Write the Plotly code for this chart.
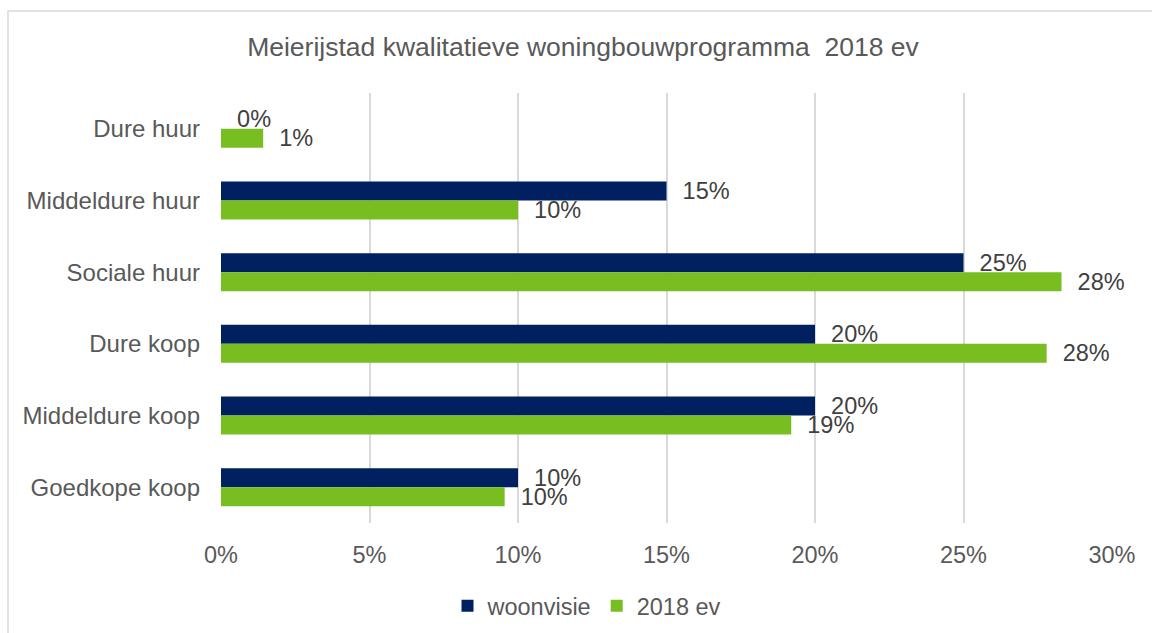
import plotly.graph_objects as go

categories = ["Dure huur", "Middeldure huur", "Sociale huur", "Dure koop", "Middeldure koop", "Goedkope koop"]
woonvisie = [0, 15, 25, 20, 20, 10]
ev2018 = [1.42, 10.0, 28.3, 27.8, 19.2, 9.55]
x_ticks = [0, 5, 10, 15, 20, 25, 30]
x_tick_labels = ["0%", "5%", "10%", "15%", "20%", "25%", "30%"]

BLUE = "#002060"
GREEN = "#78BE20"
FONT = "Liberation Sans, Arial, sans-serif"

W, H = 1152, 633
L, R, T, B = 221, 1152 - 1112, 93, 633 - 523
pw, ph = W - L - R, H - T - B

fig = go.Figure()
for name, vals, col in [("woonvisie", woonvisie, BLUE), ("2018 ev", ev2018, GREEN)]:
    fig.add_trace(go.Bar(
        y=categories, x=vals, name=name, orientation="h",
        marker=dict(color=col, line=dict(width=0)),
        texttemplate="\u00a0\u00a0%{x:.0f}%", textposition="outside",
        textfont=dict(family=FONT, size=23.5, color="#404040"),
        constraintext="none", cliponaxis=False,
        hoverinfo="skip",
    ))

def px_to_paper_x(px):
    return (px - L) / pw

def px_to_paper_y(py):
    return 1 - (py - T) / ph

fig.update_layout(
    width=W, height=H,
    margin=dict(l=L, r=R, t=T, b=B, pad=0),
    paper_bgcolor="white", plot_bgcolor="white",
    barmode="group", bargap=0.47, bargroupgap=0,
    font=dict(family=FONT, size=24, color="#595959"),
    title=dict(text="Meierijstad kwalitatieve woningbouwprogramma  2018 ev",
               x=583 / W, xanchor="center", xref="container",
               y=1 - 47 / H, yanchor="middle", yref="container",
               font=dict(family=FONT, size=26.5, color="#595959")),
    xaxis=dict(range=[0, 30], tickvals=x_ticks, ticktext=x_tick_labels,
               showgrid=True, gridcolor="#d9d9d9", gridwidth=1.5,
               zeroline=False, showline=False, ticks="",
               ticklabelstandoff=15,
               tickfont=dict(family=FONT, size=23.5, color="#595959")),
    yaxis=dict(autorange="reversed", showgrid=False, zeroline=False,
               showline=False, ticks="", ticklabelstandoff=20,
               tickfont=dict(family=FONT, size=24, color="#595959")),
    legend=dict(orientation="h", xref="container", yref="container",
                x=587 / W, xanchor="center", y=1 - 606 / H, yanchor="middle",
                font=dict(family=FONT, size=23.5, color="#595959"),
                itemclick=False),
    shapes=[dict(type="rect", xref="paper", yref="paper",
                 x0=px_to_paper_x(8), x1=px_to_paper_x(1170),
                 y0=px_to_paper_y(660), y1=px_to_paper_y(11),
                 line=dict(color="#d9d9d9", width=1.5), fillcolor="rgba(0,0,0,0)",
                 layer="below")],
)

fig.write_html("out.html")
